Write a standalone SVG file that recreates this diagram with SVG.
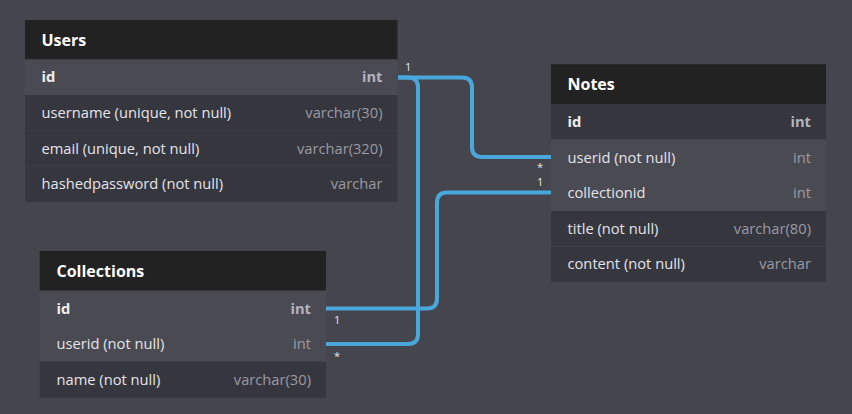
<svg xmlns="http://www.w3.org/2000/svg" width="852" height="414" viewBox="0 0 852 414">
<style>
.bg{fill:#45454e}
.hd{fill:#222222}
.rw{fill:#36363f}
.hl{fill:#4a4a53}
.sep{stroke:#3f3f48;stroke-width:1}
.ttl{font-family:"Open Sans","Noto Sans",sans-serif;font-size:16px;font-weight:bold;fill:#ffffff}
.fn{font-family:"Open Sans","Noto Sans",sans-serif;font-size:14.7px;fill:#e4e4e8}
.fnb{font-family:"Open Sans","Noto Sans",sans-serif;font-size:14.7px;font-weight:bold;fill:#eeeeee}
.ty{font-family:"Open Sans","Noto Sans",sans-serif;font-size:14.7px;fill:#9a9aa2;text-anchor:end}
.tyb{font-family:"Open Sans","Noto Sans",sans-serif;font-size:14.7px;font-weight:bold;fill:#b4b4bb;text-anchor:end}
.ln{fill:none;stroke:#49a7dc;stroke-width:4}
.lb{font-family:"Open Sans","Noto Sans",sans-serif;font-size:11px;fill:#e8e8ec}
</style>
<rect class="bg" x="0" y="0" width="852" height="414"/>

<g id="connectors">
<path class="ln" d="M398 77.5 H462 Q472 77.5 472 87.5 V147 Q472 157 482 157 H551"/>
<path class="ln" d="M398 77.5 H408 Q418 77.5 418 87.5 V334 Q418 344 408 344 H326"/>
<path class="ln" d="M326 308.5 H427 Q437 308.5 437 298.5 V202.5 Q437 192.5 447 192.5 H551"/>
<text class="lb" x="405" y="71">1</text>
<text class="lb" x="537" y="171">*</text>
<text class="lb" x="537" y="186">1</text>
<text class="lb" x="334" y="324">1</text>
<text class="lb" x="334" y="360">*</text>
</g>

<g id="users">
<rect class="hd" x="25" y="20" width="372.5" height="39.5"/>
<rect class="hl" x="25" y="59.5" width="372.5" height="35.6"/>
<rect class="rw" x="25" y="95.1" width="372.5" height="106.8"/>
<line class="sep" x1="25" y1="130.7" x2="397.5" y2="130.7"/>
<line class="sep" x1="25" y1="166.3" x2="397.5" y2="166.3"/>
<text class="ttl" x="41.5" y="45.5">Users</text>
<text class="fnb" x="41.5" y="82.3">id</text>
<text class="tyb" x="382.5" y="82.3">int</text>
<text class="fn" x="41.5" y="117.9">username (unique, not null)</text>
<text class="ty" x="382.5" y="117.9">varchar(30)</text>
<text class="fn" x="41.5" y="153.5">email (unique, not null)</text>
<text class="ty" x="382.5" y="153.5">varchar(320)</text>
<text class="fn" x="41.5" y="189.1">hashedpassword (not null)</text>
<text class="ty" x="382.5" y="189.1">varchar</text>
</g>

<g id="notes">
<rect class="hd" x="551" y="64.3" width="275" height="39.7"/>
<rect class="rw" x="551" y="104" width="275" height="35.5"/>
<rect class="hl" x="551" y="139.5" width="275" height="71.5"/>
<rect class="rw" x="551" y="211" width="275" height="71"/>
<line class="sep" x1="551" y1="246.5" x2="826" y2="246.5"/>
<text class="ttl" x="567.5" y="90">Notes</text>
<text class="fnb" x="567.5" y="127">id</text>
<text class="tyb" x="811" y="127">int</text>
<text class="fn" x="567.5" y="162.5">userid (not null)</text>
<text class="ty" x="811" y="162.5">int</text>
<text class="fn" x="567.5" y="198">collectionid</text>
<text class="ty" x="811" y="198">int</text>
<text class="fn" x="567.5" y="233.7">title (not null)</text>
<text class="ty" x="811" y="233.7">varchar(80)</text>
<text class="fn" x="567.5" y="269.3">content (not null)</text>
<text class="ty" x="811" y="269.3">varchar</text>
</g>

<g id="collections">
<rect class="hd" x="39.7" y="251" width="286.3" height="39.7"/>
<rect class="hl" x="39.7" y="290.7" width="286.3" height="71"/>
<rect class="rw" x="39.7" y="361.7" width="286.3" height="36.3"/>
<text class="ttl" x="56.5" y="277">Collections</text>
<text class="fnb" x="56.5" y="313.5">id</text>
<text class="tyb" x="311" y="313.5">int</text>
<text class="fn" x="56.5" y="349">userid (not null)</text>
<text class="ty" x="311" y="349">int</text>
<text class="fn" x="56.5" y="385">name (not null)</text>
<text class="ty" x="311" y="385">varchar(30)</text>
</g>
</svg>
